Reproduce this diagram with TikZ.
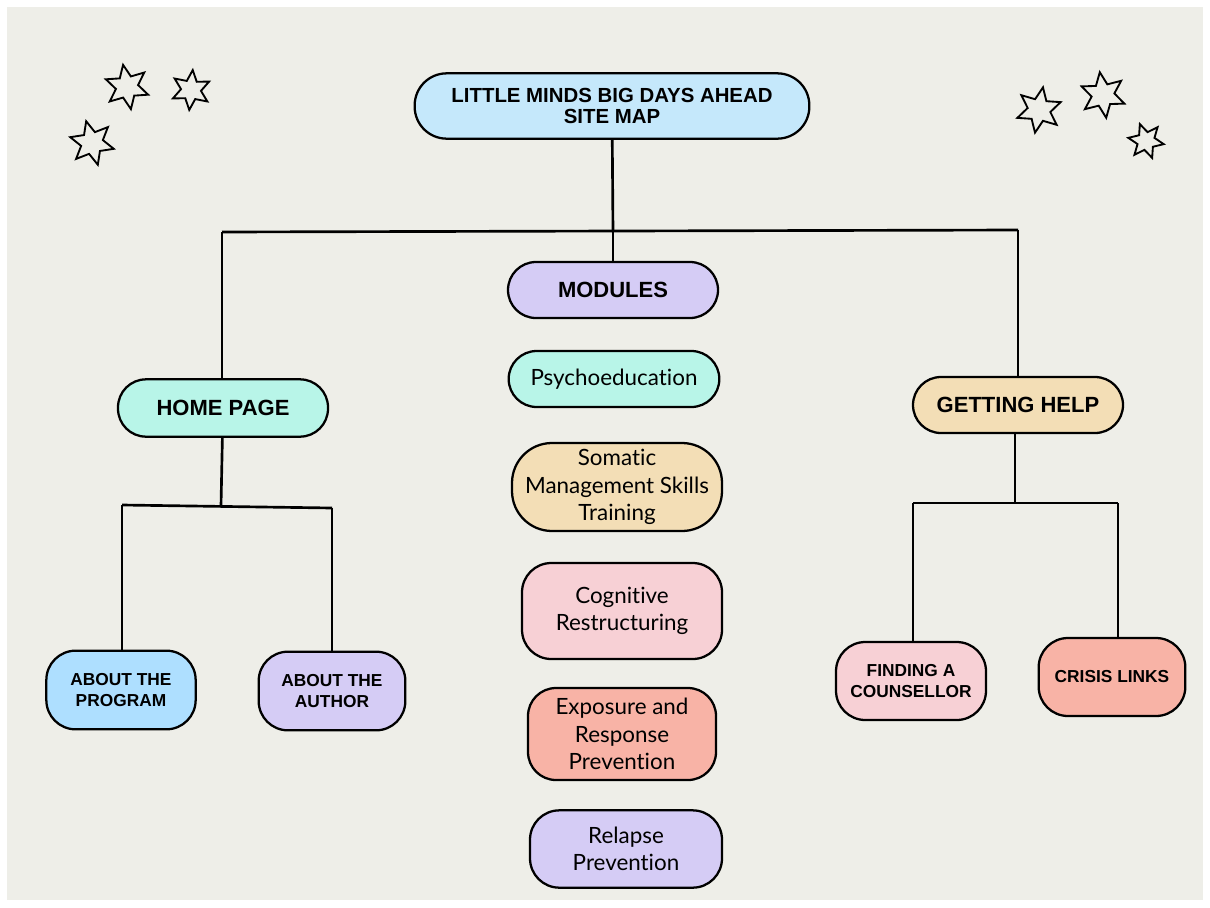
\documentclass[tikz,border=0pt]{standalone}
\usepackage{fontspec}
\setmainfont{Lato}[Ligatures={NoCommon,NoRare}]
\newfontfamily\headfont{Liberation Sans}
\usetikzlibrary{shapes.geometric}
\definecolor{paper}{RGB}{238,238,232}
\definecolor{skyblue}{RGB}{197,232,251}
\definecolor{lilac}{RGB}{213,204,245}
\definecolor{mint}{RGB}{184,245,232}
\definecolor{sand}{RGB}{243,222,182}
\definecolor{blush}{RGB}{247,208,213}
\definecolor{salmon}{RGB}{248,179,166}
\definecolor{babyblue}{RGB}{174,223,255}

\begin{document}
\begin{tikzpicture}[x=0.75pt, y=-0.75pt,
  pill/.style={draw=black, line width=1.7pt, rounded corners=21pt, align=center, inner sep=0pt},
  head/.style={pill, font=\headfont\bfseries\fontsize{16.5}{17}\selectfont},
  sub/.style={pill, font=\headfont\bfseries\fontsize{13}{15.5}\selectfont, rounded corners=22pt},
  item/.style={pill, font=\fontsize{16.8}{20.5}\selectfont},
  link/.style={line width=2pt},
  twinkle/.style={star, star points=6, star point ratio=2, draw=black, line width=1.4pt, inner sep=0pt}
]
\fill[white] (0,0) rectangle (1210,907);
\fill[paper] (7,7) rectangle (1203,900);

% stars
\foreach \sx/\sy/\ss/\sr [count=\i] in {127/87/45/10, 191/90/40/-5, 92/143/45/15,
    1039/110/46/-10, 1103/95/46/8, 1146/141/36/20}
  \node[twinkle, minimum size=0.75*\ss pt, rotate=\sr] (star\i) at (\sx,\sy) {};

% top level
\node[head, fill=skyblue, minimum width=296pt, minimum height=49pt, rounded corners=24pt,
  font=\headfont\bfseries\fontsize{15.3}{16}\selectfont] (title) at (612,106)
  {LITTLE MINDS BIG DAYS AHEAD\\SITE MAP};
\node[head, fill=lilac, minimum width=157.5pt, minimum height=42pt] (modules) at (613,290) {MODULES};
\node[head, fill=mint, minimum width=157.5pt, minimum height=43pt] (home) at (223,408) {HOME PAGE};
\node[head, fill=sand, minimum width=157.5pt, minimum height=42pt] (help) at (1018,405) {GETTING HELP};

% modules
\node[item, fill=mint, minimum width=158pt, minimum height=42pt] (psycho) at (614,379) {Psychoeducation};
\node[item, fill=sand, minimum width=157.5pt, minimum height=66pt, rounded corners=30pt] (somatic) at (617,487)
  {Somatic\\Management Skills\\Training};
\node[item, fill=blush, minimum width=150pt, minimum height=72pt, rounded corners=22pt] (cognitive) at (622,611)
  {Cognitive\\Restructuring};
\node[item, fill=salmon, minimum width=141pt, minimum height=69pt] (exposure) at (622,734)
  {Exposure and\\Response\\Prevention};
\node[item, fill=lilac, minimum width=144pt, minimum height=58pt, rounded corners=22pt] (relapse) at (626,849)
  {Relapse\\Prevention};

% sub pages
\node[sub, fill=babyblue, minimum width=112pt, minimum height=59pt] (program) at (121,690) {ABOUT THE\\PROGRAM};
\node[sub, fill=lilac, minimum width=110pt, minimum height=59pt] (author) at (332,691) {ABOUT THE\\AUTHOR};
\node[sub, fill=blush, minimum width=112.5pt, minimum height=58.5pt] (counsellor) at (911,681) {FINDING A\\COUNSELLOR};
\node[sub, fill=salmon, minimum width=110pt, minimum height=58.5pt] (crisis) at (1112,677) {CRISIS LINKS};

% connectors
\coordinate (topmid) at (613,232);
\coordinate (topleft) at (222,232);
\coordinate (topright) at (1018,230);
\draw[link] (title) -- (topmid);
\draw[link] (topleft) -- (topright);
\draw[link] (topmid) -- (modules);
\draw[link] (topleft) -- (topleft |- home.north);
\draw[link] (topright) -- (topright |- help.north);

\coordinate (homemid) at (221,506);
\coordinate (homeleft) at (122,505);
\coordinate (homeright) at (332,508);
\draw[link] (home) -- (homemid);
\draw[link] (homeleft) -- (homeright);
\draw[link] (homeleft) -- (homeleft |- program.north);
\draw[link] (homeright) -- (homeright |- author.north);

\coordinate (helpmid) at (1015,503);
\coordinate (helpleft) at (913,503);
\coordinate (helpright) at (1118,503);
\draw[link] (helpmid |- help.south) -- (helpmid);
\draw[link] (helpleft) -- (helpright);
\draw[link] (helpleft) -- (helpleft |- counsellor.north);
\draw[link] (helpright) -- (helpright |- crisis.north);
\end{tikzpicture}
\end{document}
